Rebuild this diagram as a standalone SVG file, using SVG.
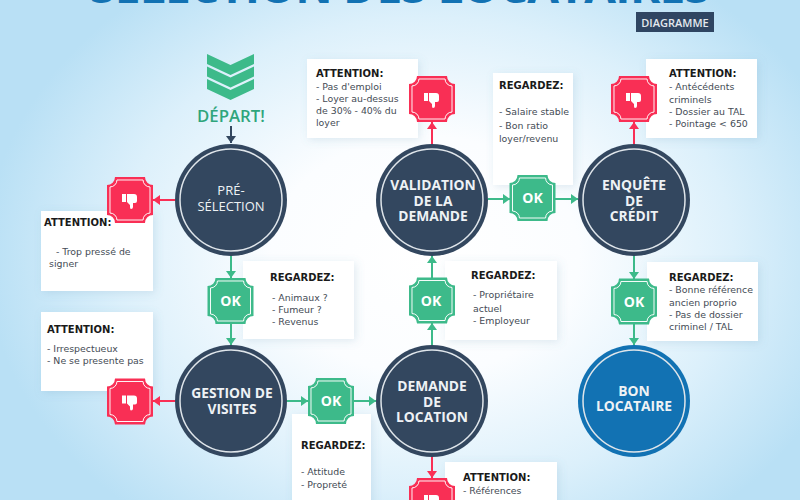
<svg xmlns="http://www.w3.org/2000/svg" width="800" height="500" viewBox="0 0 800 500">
<style>
.hd{font:bold 10px "DejaVu Sans",sans-serif;fill:#1a1a1a}
.bd{font:9.400px "DejaVu Sans",sans-serif;fill:#444b55}
.nt{font:bold 13.800px "Open Sans","DejaVu Sans",sans-serif;fill:#eef2f5;text-anchor:middle}
.ok{font:bold 14px "Open Sans","DejaVu Sans",sans-serif;fill:#fff;text-anchor:middle}
.pn{fill:#fff;filter:url(#sh)}
.cd{fill:#33475f}.ring{fill:none;stroke:#dfe5ea;stroke-width:1.5}
.g{stroke:#3dba8a;stroke-width:2;fill:none}.r{stroke:#f92f55;stroke-width:2;fill:none}.d{stroke:#33475f;stroke-width:2;fill:none}
</style>
<defs>
<radialGradient id="bg" gradientUnits="userSpaceOnUse" cx="0" cy="0" r="1" gradientTransform="translate(425 255) scale(440 340)">
<stop offset="0" stop-color="#fff"/><stop offset=".35" stop-color="#fbfdff"/><stop offset=".7" stop-color="#dcf0fb"/><stop offset="1" stop-color="#b9e0f5"/>
</radialGradient>
<filter id="sh" x="-15%" y="-15%" width="130%" height="130%"><feDropShadow dx="2" dy="2" stdDeviation="4" flood-color="#5a8fb0" flood-opacity=".18"/></filter>
<marker id="mg" markerWidth="9" markerHeight="11" refX="7" refY="5" orient="auto" markerUnits="userSpaceOnUse"><path d="M0 0L7 5L0 10Z" fill="#3dba8a"/></marker>
<marker id="mr" markerWidth="9" markerHeight="11" refX="7" refY="5" orient="auto" markerUnits="userSpaceOnUse"><path d="M0 0L7 5L0 10Z" fill="#f92f55"/></marker>
<marker id="md" markerWidth="9" markerHeight="11" refX="7" refY="5" orient="auto" markerUnits="userSpaceOnUse"><path d="M0 0L7 5L0 10Z" fill="#33475f"/></marker>
<path id="oct" d="M-15-23H15A8 8 0 0 0 23-15V15A8 8 0 0 0 15 23H-15A8 8 0 0 0-23 15V-15A8 8 0 0 0-15-23Z"/>
<g id="bad"><use href="#oct" fill="#f92f55"/><use href="#oct" fill="none" stroke="#fff" stroke-width="1.1" transform="scale(.87)"/>
<path fill="#fff" d="M-8-6H-4V2H-8ZM-3-6H4Q7-6 7-3V1Q7 3 5 3H3L3 7Q3 9 1 9Q0 9 0 7L0 5L-3 2Z"/></g>
<g id="good"><use href="#oct" fill="#3dba8a"/><use href="#oct" fill="none" stroke="#fff" stroke-width="1.1" transform="scale(.87)"/></g>
<path id="chev" d="M207 54L230.500 65L254 54V64L230.500 75L207 64Z" fill="#3dba8a"/>
</defs>
<rect width="800" height="500" fill="url(#bg)"/>
<text x="400" y="3" text-anchor="middle" font-family="Open Sans,DejaVu Sans,sans-serif" font-weight="bold" font-size="46" fill="#1272b3" textLength="620" lengthAdjust="spacing">SÉLECTION DES LOCATAIRES</text>

<g id="connectors">
<path class="d" d="M231 126V143" marker-end="url(#md)"/>
<path class="r" d="M175 200H153" marker-end="url(#mr)"/>
<path class="g" d="M231 256V278" marker-end="url(#mg)"/>
<path class="g" d="M231 323V345" marker-end="url(#mg)"/>
<path class="r" d="M175 401H153" marker-end="url(#mr)"/>
<path class="g" d="M287 401H308" marker-end="url(#mg)"/>
<path class="g" d="M354 401H376" marker-end="url(#mg)"/>
<path class="r" d="M432 457V478" marker-end="url(#mr)"/>
<path class="g" d="M432 345V323" marker-end="url(#mg)"/>
<path class="g" d="M432 278V256" marker-end="url(#mg)"/>
<path class="r" d="M432 144V122" marker-end="url(#mr)"/>
<path class="g" d="M488 199H510" marker-end="url(#mg)"/>
<path class="g" d="M555 199H578" marker-end="url(#mg)"/>
<path class="r" d="M634 144V122" marker-end="url(#mr)"/>
<path class="g" d="M634 256V279" marker-end="url(#mg)"/>
<path class="g" d="M634 324V345" marker-end="url(#mg)"/>
</g>

<g id="start"><use href="#chev"/><use href="#chev" y="12.500"/><use href="#chev" y="25"/>
<text x="231" y="122" text-anchor="middle" font-family="Open Sans,sans-serif" font-weight="600" font-size="16.800" fill="#2fa57c">DÉPART!</text></g>
<g id="tag"><rect x="636" y="12" width="78" height="20" fill="#2f4562"/><text x="675" y="27" text-anchor="middle" font-family="Open Sans,sans-serif" font-weight="600" font-size="11" fill="#e4e9ee">DIAGRAMME</text></g>

<g id="note-a1"><rect class="pn" x="307" y="59" width="111" height="79"/><text class="hd" x="316" y="77">ATTENTION:</text><text class="bd" x="316" y="89.500">- Pas d'emploi</text><text class="bd" x="316" y="102">- Loyer au-dessus</text><text class="bd" x="316" y="114">de 30% - 40% du</text><text class="bd" x="316" y="126">loyer</text></g>
<g id="note-a2"><rect class="pn" x="41" y="211" width="112" height="80"/><text class="hd" x="44" y="226">ATTENTION:</text><text class="bd" x="56" y="255">- Trop pressé de</text><text class="bd" x="49" y="267">signer</text></g>
<g id="note-r1"><rect class="pn" x="243" y="261" width="111" height="78"/><text class="hd" x="270" y="281">REGARDEZ:</text><text class="bd" x="272" y="301">- Animaux ?</text><text class="bd" x="272" y="313">- Fumeur ?</text><text class="bd" x="272" y="325">- Revenus</text></g>
<g id="note-a3"><rect class="pn" x="41" y="312" width="112" height="79"/><text class="hd" x="47" y="333">ATTENTION:</text><text class="bd" x="47" y="352">- Irrespectueux</text><text class="bd" x="47" y="364">- Ne se presente pas</text></g>
<g id="note-r2"><rect class="pn" x="292" y="414" width="79" height="100"/><text class="hd" x="301" y="449">REGARDEZ:</text><text class="bd" x="301" y="475">- Attitude</text><text class="bd" x="301" y="488">- Propreté</text></g>
<g id="note-r3"><rect class="pn" x="493" y="73" width="80" height="112"/><text class="hd" x="499" y="89">REGARDEZ:</text><text class="bd" x="499" y="115">- Salaire stable</text><text class="bd" x="499" y="129">- Bon ratio</text><text class="bd" x="499" y="142">loyer/revenu</text></g>
<g id="note-a4"><rect class="pn" x="646" y="59" width="111" height="79"/><text class="hd" x="669" y="77">ATTENTION:</text><text class="bd" x="669" y="90">- Antécédents</text><text class="bd" x="669" y="103">criminels</text><text class="bd" x="669" y="115">- Dossier au TAL</text><text class="bd" x="669" y="127">- Pointage &lt; 650</text></g>
<g id="note-r4"><rect class="pn" x="445" y="261" width="112" height="79"/><text class="hd" x="471" y="279">REGARDEZ:</text><text class="bd" x="473" y="298">- Propriétaire</text><text class="bd" x="473" y="312">actuel</text><text class="bd" x="473" y="324">- Employeur</text></g>
<g id="note-r5"><rect class="pn" x="647" y="262" width="111" height="79"/><text class="hd" x="669" y="281">REGARDEZ:</text><text class="bd" x="669" y="293">- Bonne référence</text><text class="bd" x="669" y="306">ancien proprio</text><text class="bd" x="669" y="318">- Pas de dossier</text><text class="bd" x="669" y="330">criminel / TAL</text></g>
<g id="note-a5"><rect class="pn" x="445" y="462" width="112" height="60"/><text class="hd" x="463" y="481">ATTENTION:</text><text class="bd" x="463" y="494">- Références</text></g>

<g id="n-preselection"><circle class="cd" cx="231" cy="200" r="56"/><circle class="ring" cx="231" cy="200" r="51"/><text class="nt" style="font-weight:400;font-size:13px" x="231" y="195">PRÉ-</text><text class="nt" style="font-weight:400;font-size:13px" x="231" y="211">SÉLECTION</text></g>
<g id="n-visites"><circle class="cd" cx="231" cy="401" r="56"/><circle class="ring" cx="231" cy="401" r="51"/><text class="nt" x="232" y="398">GESTION DE</text><text class="nt" x="232" y="414">VISITES</text></g>
<g id="n-location"><circle class="cd" cx="432" cy="401" r="56"/><circle class="ring" cx="432" cy="401" r="51"/><text class="nt" x="432" y="391">DEMANDE</text><text class="nt" x="432" y="407">DE</text><text class="nt" x="432" y="422">LOCATION</text></g>
<g id="n-validation"><circle class="cd" cx="432" cy="200" r="56"/><circle class="ring" cx="432" cy="200" r="51"/><text class="nt" x="433" y="190">VALIDATION</text><text class="nt" x="433" y="206">DE LA</text><text class="nt" x="433" y="221">DEMANDE</text></g>
<g id="n-credit"><circle class="cd" cx="634" cy="200" r="56"/><circle class="ring" cx="634" cy="200" r="51"/><text class="nt" x="634" y="190">ENQUÊTE</text><text class="nt" x="634" y="206">DE</text><text class="nt" x="634" y="221">CRÉDIT</text></g>
<g id="n-bon"><circle cx="634" cy="401" r="56" fill="#1272b3"/><circle class="ring" cx="634" cy="401" r="51"/><text class="nt" x="634" y="396">BON</text><text class="nt" x="634" y="411">LOCATAIRE</text></g>

<g id="no-1"><use href="#bad" x="130" y="200"/></g>
<g id="no-2"><use href="#bad" x="130" y="401.500"/></g>
<g id="no-3"><use href="#bad" x="432" y="99"/></g>
<g id="no-4"><use href="#bad" x="634" y="99"/></g>
<g id="no-5"><use href="#bad" x="432" y="501"/></g>
<g id="ok-1"><use href="#good" x="230.500" y="301"/><text class="ok" x="230.500" y="306">OK</text></g>
<g id="ok-2"><use href="#good" x="331" y="401"/><text class="ok" x="331" y="406">OK</text></g>
<g id="ok-3"><use href="#good" x="432" y="300.500"/><text class="ok" x="431" y="305.500">OK</text></g>
<g id="ok-4"><use href="#good" x="532.500" y="198"/><text class="ok" x="532.500" y="203">OK</text></g>
<g id="ok-5"><use href="#good" x="634" y="301.500"/><text class="ok" x="634" y="306.500">OK</text></g>
</svg>
